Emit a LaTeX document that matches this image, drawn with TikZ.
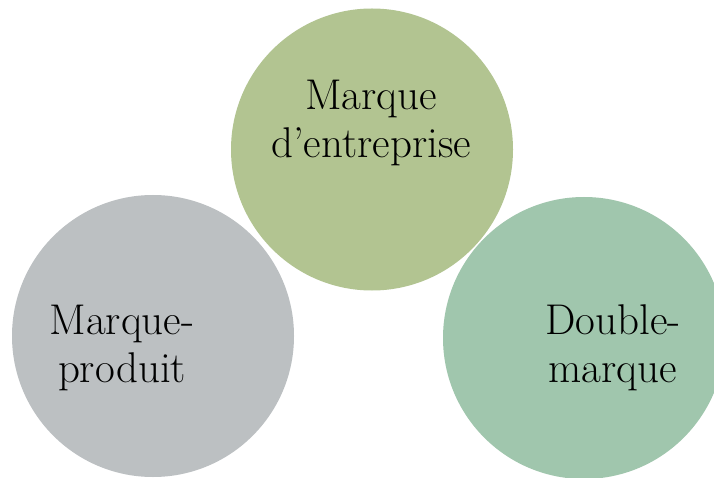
\documentclass[tikz,border=0pt]{standalone}
\usepackage{tikz}

\definecolor{olivegreen}{RGB}{178,196,145}
\definecolor{cloudgray}{RGB}{188,192,194}
\definecolor{seagreen}{RGB}{160,198,173}

\begin{document}
\begin{tikzpicture}[x=1pt,y=1pt,
    brand/.style={circle,minimum size=282pt,inner sep=0pt},
    caption/.style={align=center,font=\fontsize{43}{48}\selectfont}]
       \useasboundingbox (0,0) rectangle (714,477); % frame
       \fill[white] (0,0) rectangle (714,477);
       \node[brand,fill=olivegreen] (entreprise) at (372,327.5) {};
       \node[brand,fill=cloudgray] (produit) at (153,141) {};
       \node[brand,fill=seagreen] (double) at (584,139) {};
       \node[caption] (entreprisetext) at (371,354) {Marque\\d'entreprise};
       \node[caption] (produittext) at (122,129) {Marque-\\produit};
       \node[caption] (doubletext) at (613,129) {Double-\\marque};
\end{tikzpicture}
\end{document}
